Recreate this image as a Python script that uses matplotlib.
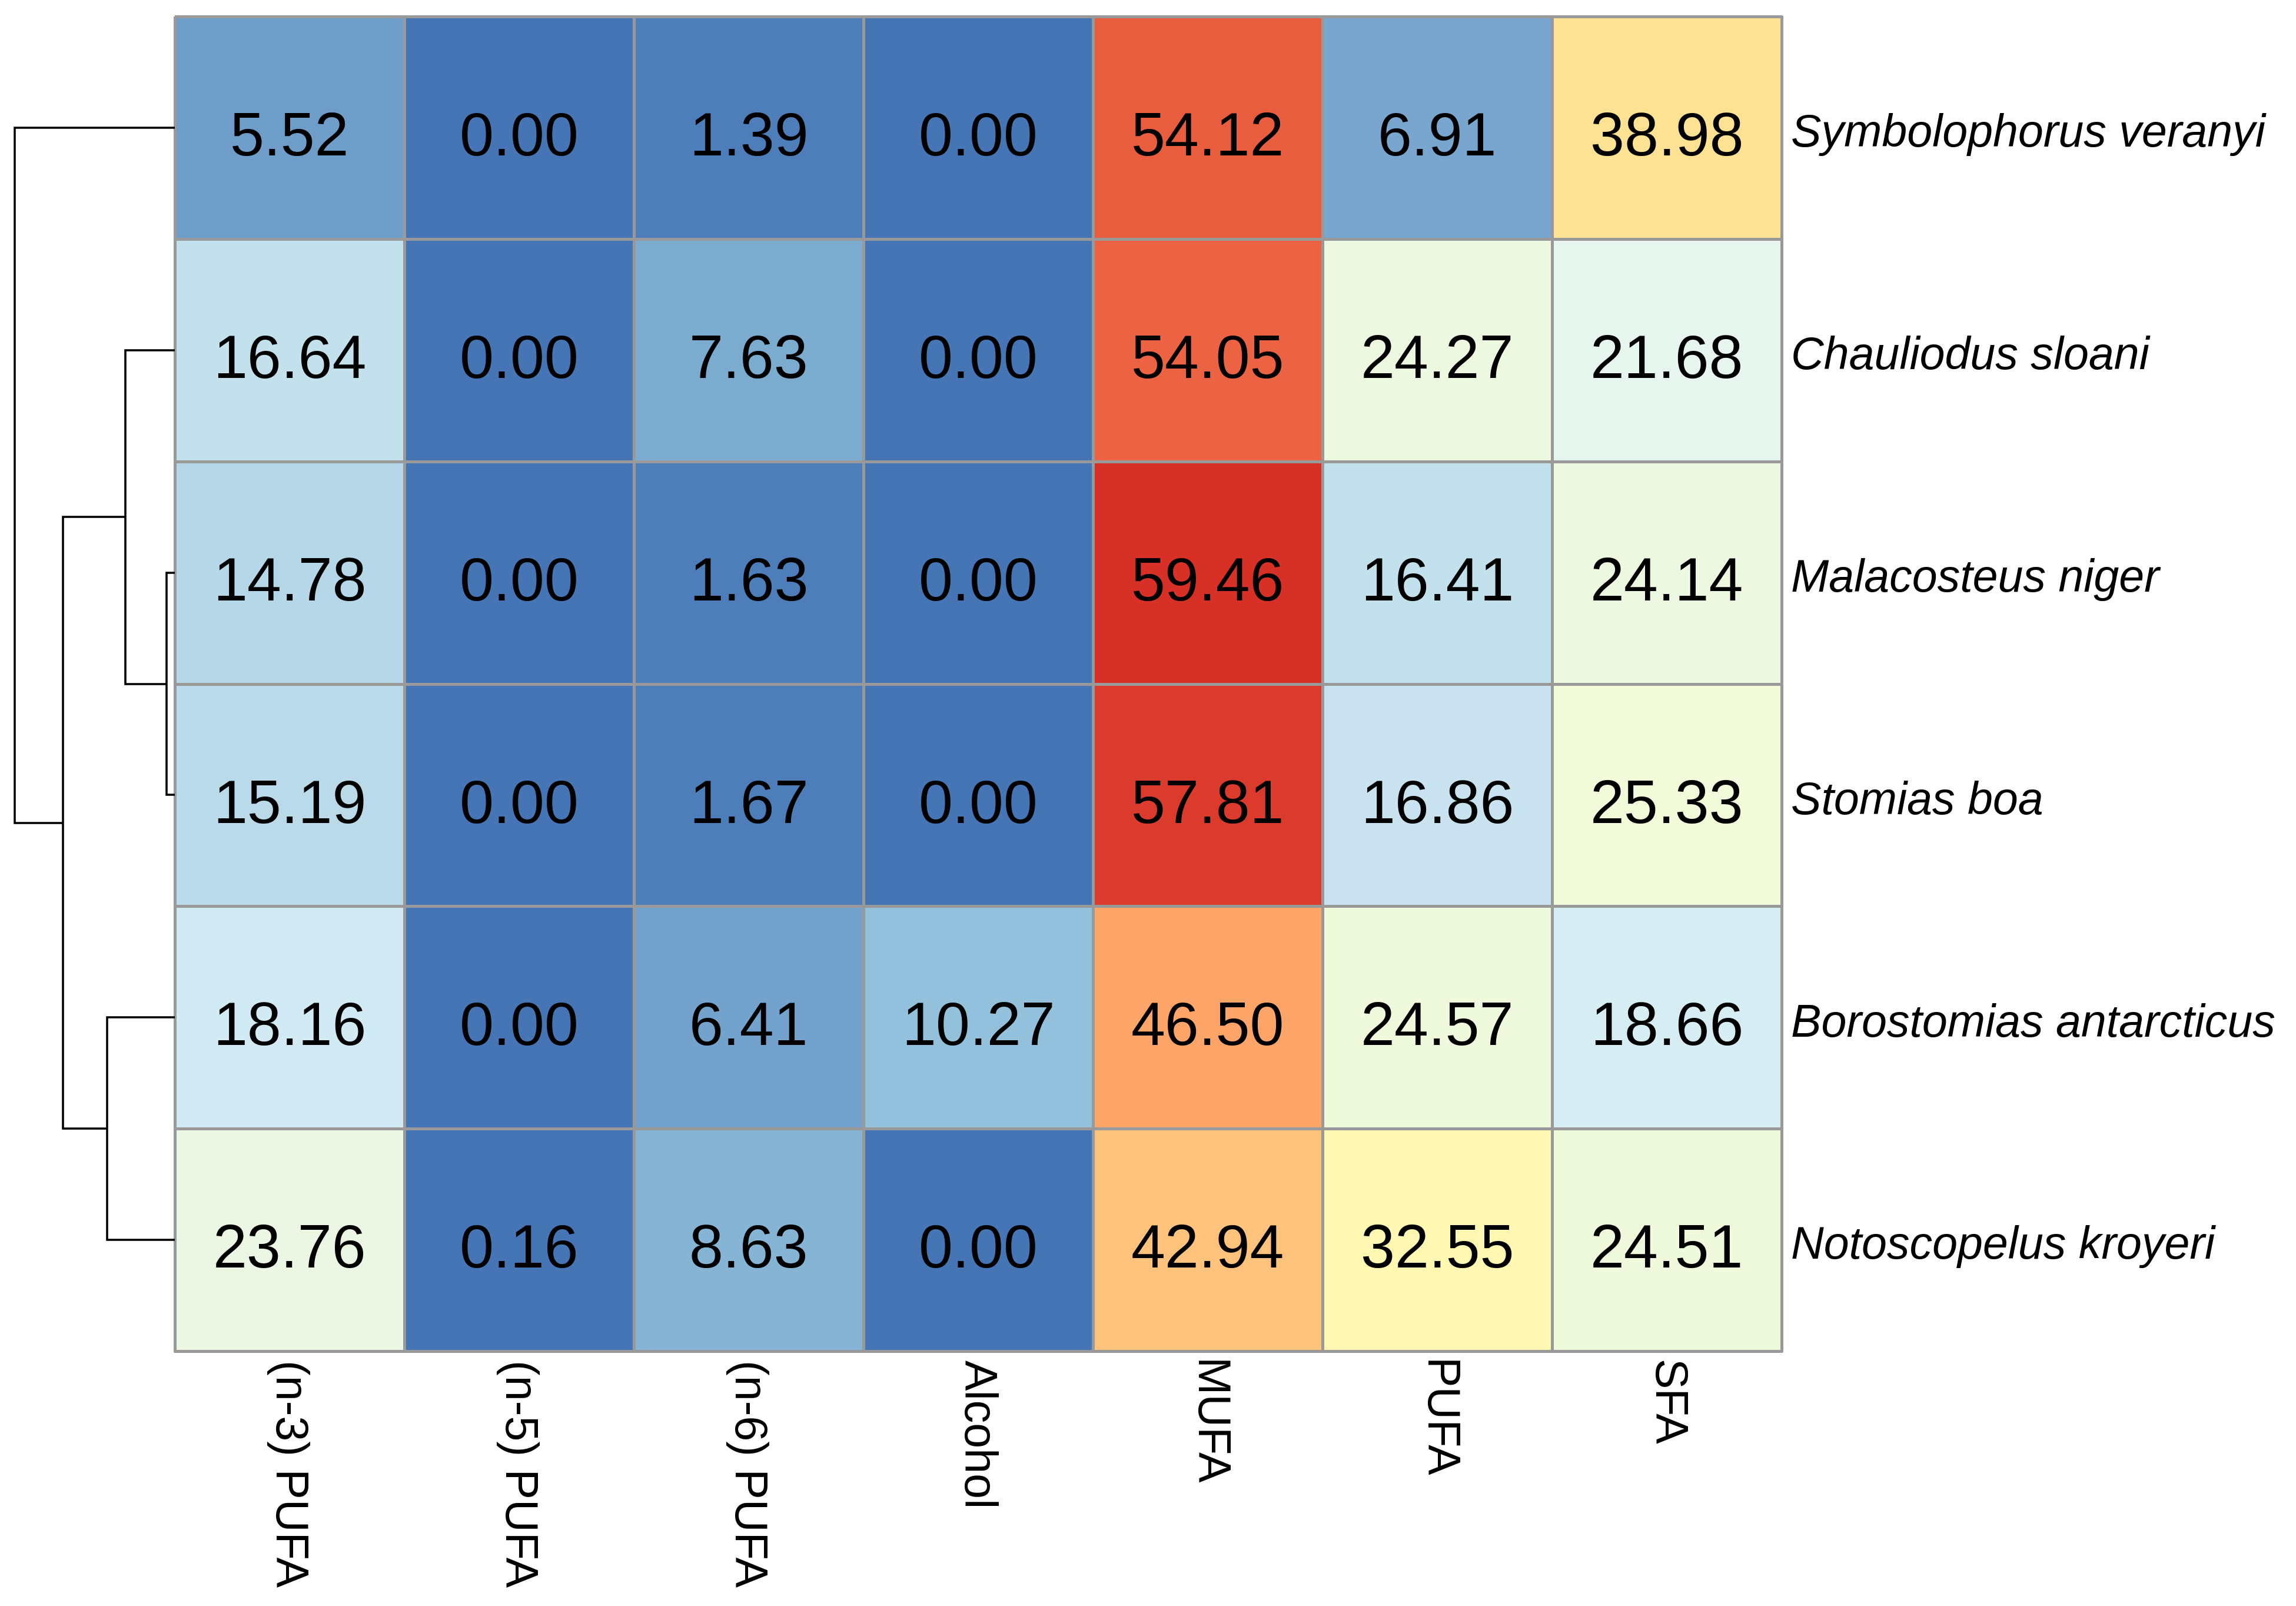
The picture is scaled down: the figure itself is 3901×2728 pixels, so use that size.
import numpy as np
import matplotlib
matplotlib.use("Agg")
import matplotlib.pyplot as plt
from matplotlib.colors import LinearSegmentedColormap

plt.rcParams['font.family'] = ['Liberation Sans', 'DejaVu Sans']

# ---- data ----
species = ["Symbolophorus veranyi", "Chauliodus sloani", "Malacosteus niger",
           "Stomias boa", "Borostomias antarcticus", "Notoscopelus kroyeri"]
columns = ["(n-3) PUFA", "(n-5) PUFA", "(n-6) PUFA", "Alcohol", "MUFA", "PUFA", "SFA"]
values = np.array([
    [5.52, 0.00, 1.39, 0.00, 54.12, 6.91, 38.98],
    [16.64, 0.00, 7.63, 0.00, 54.05, 24.27, 21.68],
    [14.78, 0.00, 1.63, 0.00, 59.46, 16.41, 24.14],
    [15.19, 0.00, 1.67, 0.00, 57.81, 16.86, 25.33],
    [18.16, 0.00, 6.41, 10.27, 46.50, 24.57, 18.66],
    [23.76, 0.16, 8.63, 0.00, 42.94, 32.55, 24.51],
])
# row dendrogram merges: (left node, right node, height); leaves are 0..5, new nodes 6..
merges = [(2, 3, 0.051), (1, 6, 0.309), (4, 5, 0.423), (7, 8, 0.699), (0, 9, 1.0)]

palette = ["#4575B4", "#91BFDB", "#E0F3F8", "#FFFFBF", "#FEE090", "#FC8D59", "#D73027"]
cmap = LinearSegmentedColormap.from_list("ph", palette, N=100)

W, H = 3901, 2729
dpi = 300
fig = plt.figure(figsize=(W / dpi, H / dpi), dpi=dpi)

gx0, gx1 = 297, 3027
gy0, gy1 = 29, 2296
nrow, ncol = values.shape

axh = fig.add_axes([gx0 / W, 1 - gy1 / H, (gx1 - gx0) / W, (gy1 - gy0) / H])
mesh = axh.pcolormesh(np.arange(ncol + 1), np.arange(nrow + 1), values, cmap=cmap,
                      vmin=values.min(), vmax=values.max(),
                      edgecolors="#999999", linewidth=0.8)
mesh.set_clip_on(False)
axh.set_xlim(0, ncol)
axh.set_ylim(nrow, 0)
axh.axis("off")

for i in range(nrow):
    for j in range(ncol):
        axh.text(j + 0.5, i + 0.5 + 0.122, f"{values[i, j]:.2f}", ha="center",
                 va="baseline", fontsize=25, color="black")

for i, s in enumerate(species):
    axh.text(ncol + 16 / 390, i + 0.5 + 0.083, s, ha="left", va="baseline",
             fontsize=18.5, style="italic", color="black", clip_on=False)

for j, c in enumerate(columns):
    axh.text(j + 0.5 - 0.006, nrow + 14 / 378, c, ha="center", va="top", rotation=-90,
             fontsize=18.5, color="black", clip_on=False)

# dendrogram
axd = fig.add_axes([0, 1 - gy1 / H, gx0 / W, (gy1 - gy0) / H])
pos = {i: (i + 0.5, 0.0) for i in range(nrow)}
for k, (a, b, h) in enumerate(merges):
    ya, ha_ = pos[a]
    yb, hb = pos[b]
    axd.plot([ha_, h, h, hb], [ya, ya, yb, yb], color="black", lw=0.85,
             solid_capstyle="butt", solid_joinstyle="miter")
    pos[nrow + k] = ((ya + yb) / 2, h)
root_h = merges[-1][2]
axd.set_xlim(root_h / (272 / 297), 0)
axd.set_ylim(nrow, 0)
axd.axis("off")

fig.savefig("out.png", dpi=dpi, facecolor="white")
